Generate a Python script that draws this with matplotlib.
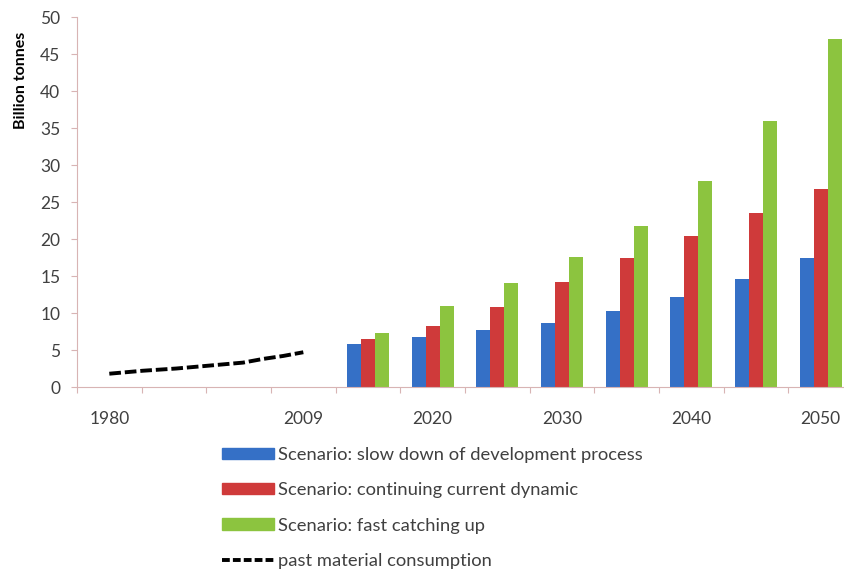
import matplotlib.pyplot as plt
import numpy as np
from matplotlib.patches import Patch
from matplotlib.lines import Line2D

plt.rcParams['font.family'] = ['Lato', 'DejaVu Sans']

# category slots along the x axis (one slot per label position)
slots = ['1980', '', '', '2009', '', '2020', '', '2030', '', '2040', '', '2050']

# scenario projections, 2015..2050 in 5-year steps
proj_years = [2015, 2020, 2025, 2030, 2035, 2040, 2045, 2050]
slow_down = [5.8, 6.7, 7.7, 8.6, 10.3, 12.2, 14.6, 17.5]
continuing = [6.5, 8.3, 10.8, 14.2, 17.4, 20.4, 23.5, 26.8]
catching_up = [7.3, 10.9, 14.1, 17.6, 21.8, 27.9, 35.9, 47.0]

# past material consumption, 1980..2009
past_years = [1980, 1985, 1990, 1995, 2000, 2003, 2006, 2009]
past_values = [1.8, 2.2, 2.5, 2.9, 3.3, 3.8, 4.2, 4.7]

names = ['Scenario: slow down of development process',
         'Scenario: continuing current dynamic',
         'Scenario: fast catching up',
         'past material consumption']
colors = ['#3570c6', '#cf3a3a', '#8cc43f']
axis_col = '#d8b4b4'
text_col = '#404040'

fig = plt.figure(figsize=(8.44, 5.71), dpi=100)
ax = fig.add_axes([0.0912, 0.3222, 0.9195, 0.648])

# projections occupy slots 4..11
pos = np.arange(4, 4 + len(proj_years))
w = 0.217
for k, vals in enumerate([slow_down, continuing, catching_up]):
    ax.bar(pos + (k - 1) * w, vals, width=w, color=colors[k], linewidth=0)

# past years map linearly onto slots 0..3
past_x = (np.array(past_years) - 1980) / (2009 - 1980) * 3
ax.plot(past_x, past_values, color='black', lw=2.8, dashes=(3, 1.0))

ax.set_xlim(-0.5, len(slots) - 0.5)
ax.set_ylim(0, 50)
ax.set_yticks(np.arange(0, 51, 5))
ax.set_xticks(np.arange(-0.5, len(slots) - 0.5, 1))
ax.set_xticklabels([])
ax.set_xticks(np.arange(len(slots)), minor=True)
ax.set_xticklabels(slots, minor=True)

for s in ['top', 'right']:
    ax.spines[s].set_visible(False)
for s in ['left', 'bottom']:
    ax.spines[s].set_color(axis_col)
    ax.spines[s].set_linewidth(0.8)
ax.tick_params(axis='both', which='major', direction='out', length=4,
               color=axis_col, width=0.8, labelcolor=text_col, labelsize=12.5)
ax.tick_params(axis='y', pad=8)
ax.tick_params(axis='x', which='minor', length=0, pad=17,
               labelcolor=text_col, labelsize=12.5)

fig.text(21 / 844, 1 - 80 / 571, 'Billion tonnes', rotation=90,
         ha='center', va='center', fontsize=11.5, fontweight='bold',
         color='black')

handles = [Patch(color=c) for c in colors]
handles.append(Line2D([], [], color='black', lw=2.8, dashes=(2.0, 0.8)))
fig.legend(handles, names, loc='upper left',
           bbox_to_anchor=(222 / 844, 1 - 447 / 571),
           frameon=False, fontsize=13.2, handlelength=2.85,
           handleheight=0.55, handletextpad=0.22, labelspacing=1.05,
           borderpad=0, borderaxespad=0, labelcolor=text_col)

fig.savefig('out.png', dpi=100)
